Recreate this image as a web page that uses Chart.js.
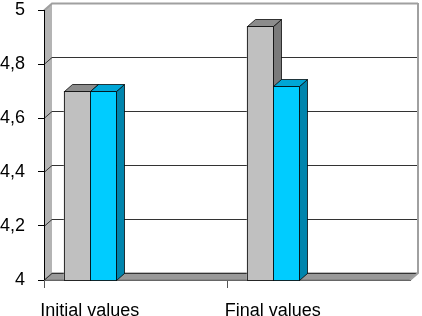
<!DOCTYPE html>
<html>
<head>
<meta charset="utf-8">
<script src="https://cdn.jsdelivr.net/npm/chart.js@4/dist/chart.umd.min.js"></script>
<style>
  html, body { margin: 0; padding: 0; background: #fff; }
  #wrap { width: 422px; height: 316px; }
</style>
</head>
<body>
<div id="wrap"><canvas id="barChart"></canvas></div>
<script>
// Data
const categories = ['Initial values', 'Final values'];
const grayValues = [4.70, 4.94];
const cyanValues = [4.70, 4.72];
const yTicks = [4, 4.2, 4.4, 4.6, 4.8, 5];

// 3D look
const depthX = 8;
const depthY = -7;
const colors = {
    gray: { front: '#c0c0c0', top: '#8c8c8c', side: '#7a7a7a' },
    cyan: { front: '#00ccff', top: '#00a6d6', side: '#0085ad' }
};

Chart.defaults.font.family = "'Liberation Sans', Arial, sans-serif";
Chart.defaults.color = '#000';

// each category gets an empty partner slot so bars sit at the left of the group
const labels = [];
const grayData = [];
const cyanData = [];
categories.forEach((c, i) => {
    labels.push(c, '');
    grayData.push(grayValues[i], null);
    cyanData.push(cyanValues[i], null);
});

function fmt(v) {
    return String(Number(v.toFixed(1))).replace('.', ',');
}

// walls, floor and gridlines on the back wall
const wallsPlugin = {
    id: 'walls',
    beforeDraw(chart) {
        const { ctx, chartArea: a, scales: { y } } = chart;
        ctx.save();
        // left wall
        ctx.fillStyle = '#b4b4b4';
        ctx.beginPath();
        ctx.moveTo(a.left, a.bottom);
        ctx.lineTo(a.left, a.top);
        ctx.lineTo(a.left + depthX, a.top + depthY);
        ctx.lineTo(a.left + depthX, a.bottom + depthY);
        ctx.closePath();
        ctx.fill();
        // floor
        ctx.fillStyle = '#999999';
        ctx.beginPath();
        ctx.moveTo(a.left, a.bottom);
        ctx.lineTo(a.right, a.bottom);
        ctx.lineTo(a.right + depthX, a.bottom + depthY);
        ctx.lineTo(a.left + depthX, a.bottom + depthY);
        ctx.closePath();
        ctx.fill();
        ctx.strokeStyle = '#777';
        ctx.lineWidth = 1;
        ctx.stroke();
        // gridlines
        yTicks.forEach(v => {
            const py = Math.round(y.getPixelForValue(v)) + 0.5;
            ctx.strokeStyle = v === 5 ? '#a0a0a0' : '#333';
            ctx.lineWidth = v === 5 ? 2 : 1;
            ctx.beginPath();
            ctx.moveTo(a.left, py);
            ctx.lineTo(a.left + depthX, py + depthY);
            ctx.lineTo(a.right + depthX, py + depthY);
            ctx.stroke();
        });
        // back wall right edge
        ctx.strokeStyle = '#a0a0a0';
        ctx.lineWidth = 2;
        ctx.beginPath();
        ctx.moveTo(a.right + depthX, a.top + depthY);
        ctx.lineTo(a.right + depthX, a.bottom + depthY);
        ctx.lineTo(a.right, a.bottom);
        ctx.stroke();
        ctx.restore();
    }
};

// redraw bars with top and side faces, in order
const bars3dPlugin = {
    id: 'bars3d',
    afterDatasetsDraw(chart) {
        const ctx = chart.ctx;
        const keys = ['gray', 'cyan'];
        ctx.save();
        ctx.lineWidth = 1;
        ctx.strokeStyle = 'rgba(0,0,0,0.75)';
        for (let i = 0; i < labels.length; i++) {
            keys.forEach((k, d) => {
                const bar = chart.getDatasetMeta(d).data[i];
                if (!bar || chart.data.datasets[d].data[i] == null) return;
                const c = colors[k];
                const l = Math.round(bar.x - bar.width / 2) + 0.5;
                const r = Math.round(bar.x + bar.width / 2) + 0.5;
                const t = Math.round(bar.y) + 0.5;
                const b = Math.round(bar.base) + 0.5;
                ctx.fillStyle = c.front;
                ctx.fillRect(l, t, r - l, b - t);
                ctx.strokeRect(l, t, r - l, b - t);
                ctx.fillStyle = c.side;
                ctx.beginPath();
                ctx.moveTo(r, t);
                ctx.lineTo(r + depthX, t + depthY);
                ctx.lineTo(r + depthX, b + depthY);
                ctx.lineTo(r, b);
                ctx.closePath();
                ctx.fill();
                ctx.stroke();
                ctx.fillStyle = c.top;
                ctx.beginPath();
                ctx.moveTo(l, t);
                ctx.lineTo(r, t);
                ctx.lineTo(r + depthX, t + depthY);
                ctx.lineTo(l + depthX, t + depthY);
                ctx.closePath();
                ctx.fill();
                ctx.stroke();
            });
        }
        ctx.restore();
    }
};

new Chart(document.getElementById('barChart'), {
    type: 'bar',
    data: {
        labels: labels,
        datasets: [{
            label: 'Series 1',
            data: grayData,
            base: yTicks[0],
            backgroundColor: colors.gray.front
        }, {
            label: 'Series 2',
            data: cyanData,
            base: yTicks[0],
            backgroundColor: colors.cyan.front
        }]
    },
    options: {
        responsive: true,
        maintainAspectRatio: false,
        animation: false,
        categoryPercentage: 52 / 91.5,
        barPercentage: 1,
        layout: { padding: { top: 10, right: 12, left: 0, bottom: 0 } },
        plugins: {
            legend: { display: false },
            tooltip: { enabled: false }
        },
        scales: {
            y: {
                min: 4,
                max: 5,
                afterFit: s => { s.width = 44; s.paddingTop = 0; s.paddingBottom = 0; },
                afterBuildTicks: s => { s.ticks = yTicks.map(v => ({ value: v })); },
                ticks: {
                    padding: 13,
                    font: { size: 18 },
                    callback: v => fmt(v)
                },
                grid: {
                    drawOnChartArea: false,
                    tickLength: 6,
                    color: '#000'
                },
                border: { display: true, color: '#000', width: 1 }
            },
            x: {
                afterFit: s => { s.height = 36; },
                ticks: {
                    padding: 12,
                    maxRotation: 0,
                    minRotation: 0,
                    autoSkip: false,
                    font: { size: 18 }
                },
                grid: {
                    offset: true,
                    drawOnChartArea: false,
                    tickLength: 8,
                    color: c => (c.index % 2 === 0 ? '#555' : 'rgba(0,0,0,0)')
                },
                border: { display: true, color: '#666', width: 1 }
            }
        }
    },
    plugins: [wallsPlugin, bars3dPlugin]
});
</script>
</body>
</html>
